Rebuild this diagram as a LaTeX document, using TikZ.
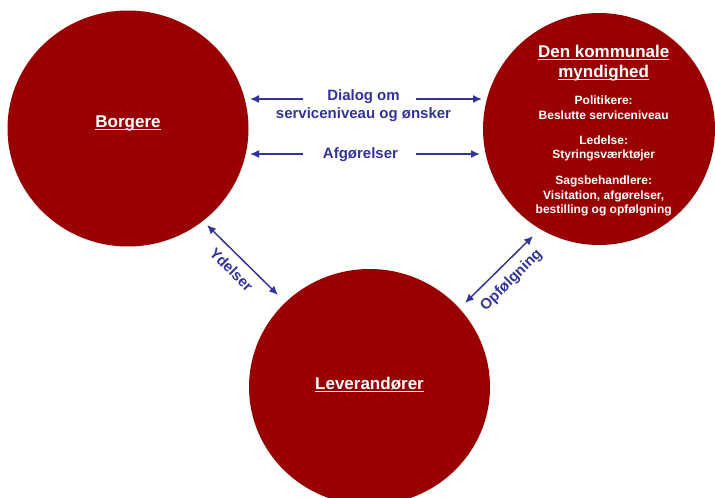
\documentclass[tikz,border=0pt]{standalone}
\usepackage{fontspec}
\setmainfont{Liberation Sans}
\usetikzlibrary{arrows.meta,shapes.geometric}
\definecolor{circred}{HTML}{990000}
\definecolor{arrblue}{HTML}{333399}
\newcommand\myul[1]{\setbox0\hbox{#1}\rlap{\rule[-2.6pt]{\wd0}{1.3pt}}\box0}
\tikzset{
  circ/.style={ellipse, fill=circred, draw=none, inner sep=0pt, minimum width=241pt, minimum height=236pt},
  title/.style={text=white, font=\bfseries\fontsize{17}{20}\selectfont, inner sep=0pt, anchor=base},
  small/.style={text=white, font=\bfseries\fontsize{12}{15}\selectfont, inner sep=0pt, anchor=base},
  blab/.style={text=arrblue, font=\bfseries\fontsize{15}{18}\selectfont, inner sep=0pt, anchor=base},
  rlab/.style={text=arrblue, font=\bfseries\fontsize{15}{18}\selectfont, inner sep=0pt},
  conn/.style={draw=arrblue, line width=1.5pt, -{Latex[length=9pt,width=8pt]}},
  dconn/.style={draw=arrblue, line width=1.5pt, {Latex[length=9pt,width=8pt]}-{Latex[length=9pt,width=8pt]}}
}
\begin{document}
\begin{tikzpicture}[x=1pt,y=-1pt]
\useasboundingbox (0,0) rectangle (715,498);
\begin{scope}
\clip (0,0) rectangle (715,498);
\node[circ] (borg) at (128,128.5) {};
\node[circ, minimum width=232pt, minimum height=232pt] (mynd) at (599,129) {};
\node[circ] (lev) at (369.5,387) {};
\end{scope}
\node[title] (tborg) at (128,127.7) {\myul{Borgere}};
\node[title] (tlev) at (369.5,389.3) {\myul{Leverandører}};
\node[title] (tm1) at (603.7,57.3) {\myul{Den kommunale}};
\node[title] (tm2) at (603.7,77.3) {\myul{myndighed}};
\node[small] (g1a) at (603.7,104) {Politikere:};
\node[small] (g1b) at (603.7,119) {Beslutte serviceniveau};
\node[small] (g2a) at (603.7,144) {Ledelse:};
\node[small] (g2b) at (603.7,158.5) {Styringsværktøjer};
\node[small] (g3a) at (603.7,184) {Sagsbehandlere:};
\node[small] (g3b) at (603.7,199) {Visitation, afgørelser,};
\node[small] (g3c) at (603.7,213.5) {bestilling og opfølgning};
% labels
\node[blab] (ldia1) at (363.5,100.7) {Dialog om};
\node[blab] (ldia2) at (363.5,118.3) {serviceniveau og ønsker};
\node[blab] (lafg) at (360.5,158.3) {Afgørelser};
\coordinate (d1) at (303,99);
\coordinate (d2) at (416,99);
\coordinate (d1e) at (250,99);
\coordinate (d2e) at (482,99);
\coordinate (a1) at (303,154);
\coordinate (a2) at (416,154);
\coordinate (a1e) at (250,154);
\coordinate (a2e) at (480,154);
\draw[conn] (d1) -- (d1e);
\draw[conn] (d2) -- (d2e);
\draw[conn] (a1) -- (a1e);
\draw[conn] (a2) -- (a2e);
% diagonals
\coordinate (y1) at (207,225);
\coordinate (y2) at (278,295);
\draw[dconn] (y1) -- (y2);
\node[rlab, rotate=-45] (lyd) at (231.5,269.5) {Ydelser};
\coordinate (o1) at (465,303);
\coordinate (o2) at (533,236);
\draw[dconn] (o1) -- (o2);
\node[rlab, rotate=45] (lopf) at (511.5,280.5) {Opfølgning};
\end{tikzpicture}
\end{document}
